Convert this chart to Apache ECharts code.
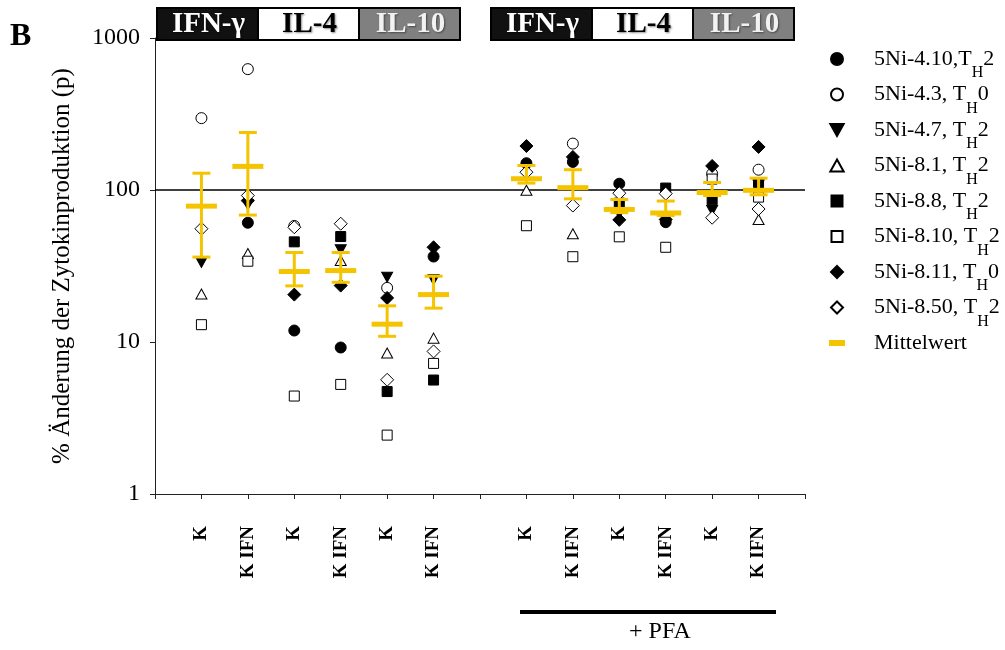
<!DOCTYPE html>
<html>
<head>
<meta charset="utf-8">
<script src="https://cdn.jsdelivr.net/npm/echarts@6/dist/echarts.min.js"></script>
<style>
  html, body { margin: 0; padding: 0; background: #fff; }
  #chart { width: 1005px; height: 650px; }
</style>
</head>
<body>
<div id="chart"></div>
<script>
// Stimulation slots on the x axis (empty slots are spacers)
const categories = ['', 'K', 'K IFN', 'K', 'K IFN', 'K', 'K IFN', '', 'K', 'K IFN', 'K', 'K IFN', 'K', 'K IFN', ''];
const cytokines = ['IFN-γ', 'IL-4', 'IL-10'];

// T-cell clones and their TH type
const cloneIds = ['5Ni-4.10,', '5Ni-4.3, ', '5Ni-4.7, ', '5Ni-8.1, ', '5Ni-8.8, ', '5Ni-8.10, ', '5Ni-8.11, ', '5Ni-8.50, '];
const thTypes = ['2', '0', '2', '2', '2', '2', '0', '2'];

// % change of cytokine production per clone (aligned with categories, null = no value)
const ni4_10 = [null, null, 60.9, 11.9, 9.2, null, 36.5, null, 150, 153, 110, 61.4, null, null, null];
const ni4_3  = [null, 297, 624, 58, null, 22.7, null, null, null, 202, null, null, 128, 136, null];
const ni4_7  = [null, 33.4, 80, null, 40.4, 26.7, 25.7, null, null, null, 70, null, 73.4, 108, null];
const ni8_1  = [null, 20.7, 38.2, null, 34.4, 8.46, 10.6, null, 99.5, 51.5, null, null, null, 64, null];
const ni8_8  = [null, null, null, 45.6, 49.4, 4.72, 5.62, null, null, null, 82, 103, 86.3, 112, null];
const ni8_10 = [null, 13.0, 34.0, 4.41, 5.26, 2.44, 7.23, null, 58.2, 36.4, 49.2, 42, 118, 89.8, null];
const ni8_11 = [null, null, 85, 20.5, 23.5, 19.5, 42, null, 194.7, 165, 63.6, 64, 144, 192, null];
const ni8_50 = [null, 55.6, 92, 56.9, 60, 5.64, 8.67, null, 131, 79, 95.3, 94.6, 65.7, 75, null];

// Mean with error range
const meanValues  = [null, 78.3, 143, 29.1, 29.5, 13.1, 20.5, null, 118.6, 103.6, 74.5, 70.6, 96.2, 99.5, null];
const upperValues = [null, 129, 239, 38.8, 38.8, 17.3, 27.1, null, 145, 136, 86.6, 84.6, 112, 119.6, null];
const lowerValues = [null, 36.2, 68.4, 23.4, 24.7, 10.9, 16.7, null, 111, 87.5, 71, 68, 92, 93, null];

const cloneValues = [ni4_10, ni4_3, ni4_7, ni8_1, ni8_8, ni8_10, ni8_11, ni8_50];

const SERIF = '"Liberation Serif", "Times New Roman", Times, serif';
const GOLD = '#F5C400';
const DOWN_TRIANGLE = 'path://M0,0L10,0L5,9Z';
const UP_TRIANGLE = 'path://M5,0L10,9L0,9Z';
const SQUARE_ICON = 'path://M0,0M0.5,0.5h11v11h-11zM12,12';
const DIAMOND_ICON = 'path://M6,0L12,6L6,12L0,6Z';
const MEAN_ICON = 'path://M0,-3M0,0h16v6h-16zM16,9';

// Marker shape / fill per clone (series symbol, legend icon)
const markerStyles = [
  { symbol: 'circle',  icon: 'circle',     size: 11, fill: '#000' },
  { symbol: 'circle',  icon: 'circle',     size: 11, fill: '#fff' },
  { symbol: DOWN_TRIANGLE, icon: DOWN_TRIANGLE, size: [11, 10], fill: '#000' },
  { symbol: UP_TRIANGLE,   icon: UP_TRIANGLE,   size: [11, 10], fill: '#fff' },
  { symbol: 'rect',    icon: SQUARE_ICON,  size: 10, fill: '#000' },
  { symbol: 'rect',    icon: SQUARE_ICON,  size: 10, fill: '#fff' },
  { symbol: 'diamond', icon: DIAMOND_ICON, size: 13, fill: '#000' },
  { symbol: 'diamond', icon: DIAMOND_ICON, size: 13, fill: '#fff' }
];

const seriesNames = cloneIds.map((id, i) => id + 'T' + 'H' + thTypes[i]);

const pairs = arr => arr.map((v, i) => v == null ? null : [i, v]).filter(Boolean);

const scatterSeries = cloneValues.map((vals, i) => ({
  name: seriesNames[i],
  type: 'scatter',
  symbol: markerStyles[i].symbol,
  symbolSize: markerStyles[i].size,
  itemStyle: { color: markerStyles[i].fill, borderColor: '#000', borderWidth: 1, opacity: 1 },
  emphasis: { disabled: true },
  z: 2,
  data: pairs(vals)
}));

const meanData = meanValues.map((m, i) => m == null ? null : [i, m, lowerValues[i], upperValues[i]]).filter(Boolean);

const meanSeries = {
  name: 'Mittelwert',
  type: 'custom',
  z: 5,
  itemStyle: { color: GOLD },
  encode: { x: 0, y: 1 },
  data: meanData,
  renderItem(params, api) {
    const x = api.value(0);
    const pm = api.coord([x, api.value(1)]);
    const pl = api.coord([x, api.value(2)]);
    const ph = api.coord([x, api.value(3)]);
    const st = { stroke: GOLD, lineWidth: 3 };
    return {
      type: 'group',
      children: [
        { type: 'line', shape: { x1: pm[0], y1: pl[1], x2: pm[0], y2: ph[1] }, style: st },
        { type: 'line', shape: { x1: pm[0] - 9, y1: ph[1], x2: pm[0] + 9, y2: ph[1] }, style: st },
        { type: 'line', shape: { x1: pm[0] - 9, y1: pl[1], x2: pm[0] + 9, y2: pl[1] }, style: st },
        { type: 'rect', shape: { x: pm[0] - 15.5, y: pm[1] - 2.5, width: 31, height: 5 }, style: { fill: GOLD } }
      ]
    };
  },
  markLine: {
    silent: true,
    symbol: 'none',
    z: 1,
    label: { show: false },
    lineStyle: { color: '#000', width: 1.5, type: 'solid' },
    emphasis: { disabled: true },
    data: [{ yAxis: 100 }]
  }
};

// Cytokine header boxes above the plot
function headerBoxes(x0) {
  const fills = ['#111111', '#ffffff', '#808080'];
  const textFills = ['#ffffff', '#000000', '#f2f2f2'];
  const w = 101;
  return cytokines.map((t, i) => ({
    type: 'group',
    left: x0 + i * w,
    top: 7,
    children: [
      { type: 'rect', shape: { x: 0, y: 0, width: w, height: 32 },
        style: { fill: fills[i], stroke: '#000', lineWidth: 2 } },
      { type: 'text', x: w / 2 + 1, y: 17,
        style: { text: t, fill: textFills[i], font: 'bold 29px ' + SERIF,
                 align: 'center', verticalAlign: 'middle',
                 textShadowColor: 'rgba(0,0,0,0.45)', textShadowBlur: 2,
                 textShadowOffsetX: 1, textShadowOffsetY: 1 } }
    ]
  }));
}

const option = {
  animation: false,
  backgroundColor: '#fff',
  grid: { left: 155, right: 200, top: 38, bottom: 156, containLabel: false },
  xAxis: {
    type: 'category',
    data: categories,
    boundaryGap: false,
    axisLine: { show: true, lineStyle: { color: '#222', width: 1 } },
    axisTick: { show: true, interval: 0, length: 5, inside: false, lineStyle: { color: '#222' } },
    axisLabel: { interval: 0, rotate: 90, margin: 32, color: '#000',
                 fontFamily: SERIF, fontWeight: 'bold', fontSize: 19 },
    splitLine: { show: false }
  },
  yAxis: {
    type: 'log',
    logBase: 10,
    min: 1,
    max: 1000,
    name: '% Änderung der Zytokinproduktion (p)',
    nameLocation: 'middle',
    nameGap: 80,
    nameTextStyle: { fontFamily: SERIF, fontSize: 25, color: '#000' },
    axisLine: { show: true, lineStyle: { color: '#222', width: 1 } },
    axisTick: { show: true, length: 5, inside: false, lineStyle: { color: '#222' } },
    minorTick: { show: false },
    axisLabel: { margin: 15, color: '#000', fontFamily: SERIF, fontSize: 24,
                 formatter: v => String(v) },
    splitLine: { show: false }
  },
  legend: {
    orient: 'vertical',
    left: 824,
    top: 32,
    itemWidth: 64,
    itemHeight: 12,
    itemGap: -8.5,
    selectedMode: false,
    symbolKeepAspect: true,
    data: seriesNames.map((n, i) => ({ name: n, icon: markerStyles[i].icon }))
      .concat([{ name: 'Mittelwert', icon: MEAN_ICON }]),
    formatter(name) {
      const i = seriesNames.indexOf(name);
      if (i < 0) return '{t|' + name + '}{s| }';
      return '{t|' + cloneIds[i] + 'T}{s|H}{t|' + thTypes[i] + '}';
    },
    textStyle: {
      color: '#000',
      fontFamily: SERIF,
      fontSize: 22,
      rich: {
        t: { fontFamily: SERIF, fontSize: 22, lineHeight: 26, color: '#000' },
        s: { fontFamily: SERIF, fontSize: 16, lineHeight: 16, color: '#000', padding: [28, 0, 0, 0] }
      }
    }
  },
  graphic: [
    { type: 'text', left: 10, top: 21,
      style: { text: 'B', font: 'bold 32px ' + SERIF, fill: '#000' } },
    ...headerBoxes(156),
    ...headerBoxes(490),
    { type: 'rect', left: 520, top: 610, shape: { width: 256, height: 4 }, style: { fill: '#000' } },
    { type: 'text', left: 629, top: 620,
      style: { text: '+ PFA', font: '24px ' + SERIF, fill: '#000' } }
  ],
  series: [...scatterSeries, meanSeries]
};

const chart = echarts.init(document.getElementById('chart'), null, { renderer: 'canvas' });
chart.setOption(option);
</script>
</body>
</html>
